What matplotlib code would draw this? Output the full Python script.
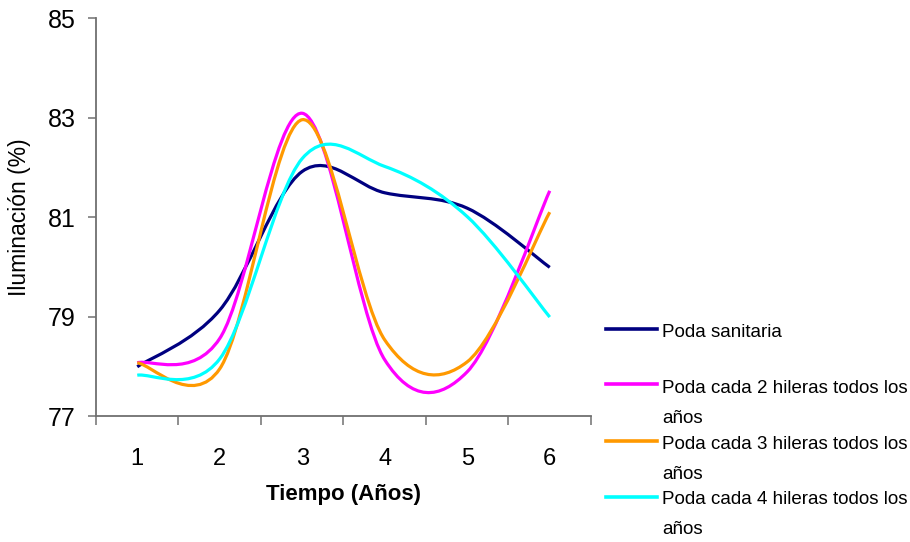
import matplotlib
matplotlib.use("Agg")
import matplotlib.pyplot as plt
from matplotlib.path import Path
from matplotlib.patches import PathPatch
from matplotlib.lines import Line2D
import numpy as np

# valores
anios = [1, 2, 3, 4, 5, 6]
poda_sanitaria = [77.99, 79.13, 81.92, 81.49, 81.18, 79.99]
poda_2_hileras = [78.07, 78.56, 83.09, 78.13, 77.89, 81.53]
poda_3_hileras = [78.07, 77.95, 82.96, 78.53, 78.09, 81.10]
poda_4_hileras = [77.82, 78.15, 82.18, 82.02, 81.01, 78.99]

series = [
    (["Poda sanitaria"], poda_sanitaria, "#000080"),
    (["Poda cada 2 hileras todos los", "años"], poda_2_hileras, "#FF00FF"),
    (["Poda cada 3 hileras todos los", "años"], poda_3_hileras, "#FF9900"),
    (["Poda cada 4 hileras todos los", "años"], poda_4_hileras, "#00FFFF"),
]

plt.rcParams['font.family'] = ['Liberation Sans', 'DejaVu Sans']


def smooth_path(x, y):
    # curva suavizada tipo Excel (bezier con tension 1/6)
    p = np.column_stack([x, y]).astype(float)
    n = len(p)
    verts = [p[0]]
    codes = [Path.MOVETO]
    for i in range(n - 1):
        p0 = p[max(i - 1, 0)]
        p1 = p[i]
        p2 = p[i + 1]
        p3 = p[min(i + 2, n - 1)]
        c1 = p1 + (p2 - p0) / 6.0
        c2 = p2 - (p3 - p1) / 6.0
        verts += [c1, c2, p2]
        codes += [Path.CURVE4] * 3
    return Path(verts, codes)


W, H = 910, 542
fig = plt.figure(figsize=(W / 100, H / 100), dpi=100)
ax = fig.add_axes([96 / W, 1 - 416 / H, (591 - 96) / W, (416 - 18.3) / H])

for name, vals, col in series:
    patch = PathPatch(smooth_path(anios, vals), facecolor='none',
                      edgecolor=col, lw=2.3, capstyle='butt', joinstyle='round')
    ax.add_patch(patch)

ax.set_xlim(0.5, 6.5)
ax.set_ylim(77, 85)
ax.set_yticks([77, 79, 81, 83, 85])
ax.set_xticks(anios)
ax.set_xticks(np.arange(0.5, 7, 1), minor=True)

spine_col = '#707070'
for s in ['top', 'right']:
    ax.spines[s].set_visible(False)
for s in ['left', 'bottom']:
    ax.spines[s].set_color(spine_col)
    ax.spines[s].set_linewidth(1.3)

ax.tick_params(axis='y', which='major', length=5.5, width=1.1, color=spine_col,
               labelsize=18, pad=9)
ax.tick_params(axis='x', which='major', length=0, labelsize=17, pad=23)
ax.tick_params(axis='x', which='minor', length=6.5, width=1.1, color=spine_col)

ax.set_ylabel("Iluminación (%)", fontsize=16.5, labelpad=12)
ax.set_xlabel("Tiempo (Años)", fontsize=16, fontweight='bold', labelpad=10)

# leyenda a la derecha
handle_y = [329, 384, 441, 497]
base_y = [337, 393, 449, 504]
line_gap = 30
for (lines, vals, col), hy, by in zip(series, handle_y, base_y):
    fig.add_artist(Line2D([606 / W, 657 / W], [1 - hy / H, 1 - hy / H],
                          color=col, lw=2.6, transform=fig.transFigure))
    for k, txt in enumerate(lines):
        fig.text(662 / W, 1 - (by + k * line_gap) / H, txt, fontsize=13.5,
                 va='baseline', ha='left')

fig.savefig("out.png", dpi=100)
